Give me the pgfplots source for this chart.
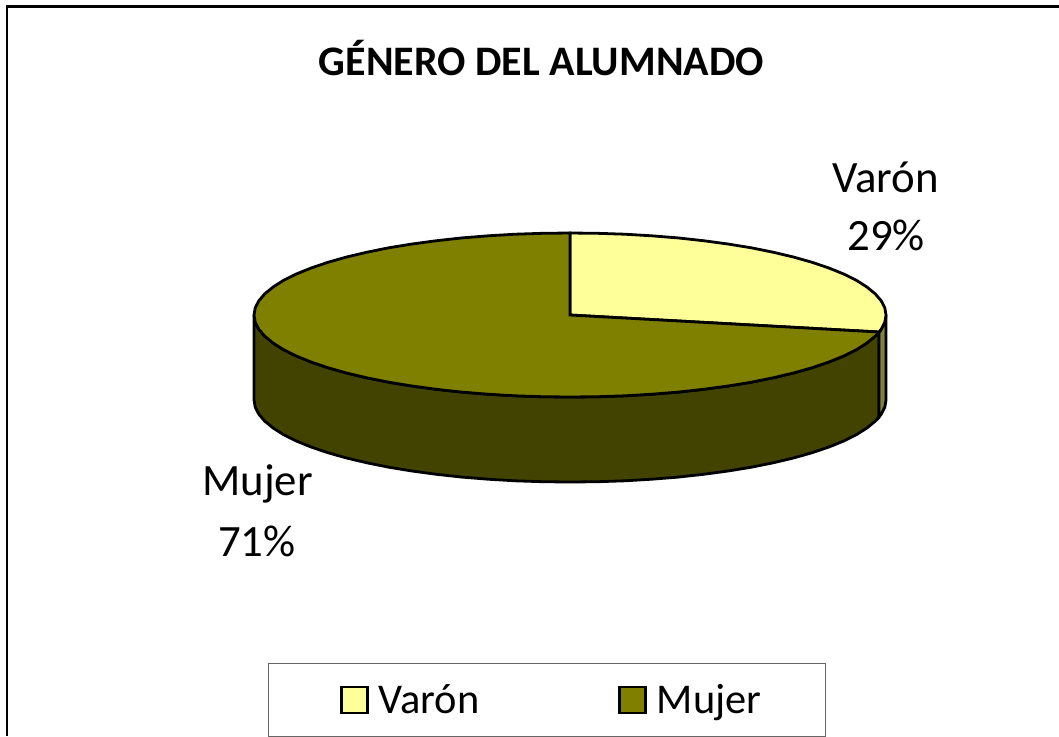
\documentclass[border=0pt]{standalone}
\usepackage{fontspec}
\setmainfont{Carlito}
\usepackage{pgfplots}
\pgfplotsset{compat=1.18}

\definecolor{varon}{HTML}{FFFF99}
\definecolor{mujer}{HTML}{808000}
\definecolor{varonside}{HTML}{80803F}
\definecolor{mujerside}{HTML}{434300}

\begin{document}
\begin{tikzpicture}
\begin{axis}[
  scale only axis,
  width=529.5pt, height=368pt,
  xmin=0, xmax=1059,
  ymin=0, ymax=736,
  y dir=reverse,
  hide axis,
  clip=false,
  legend columns=2,
  legend cell align=left,
  legend style={
    at={(axis cs:547,700)}, anchor=center,
    draw=black!60, line width=0.5pt,
    font=\fontsize{21.2pt}{24pt}\selectfont,
    inner xsep=30pt, inner ysep=8pt,
    /tikz/every odd column/.append style={column sep=3pt},
    /tikz/every even column/.append style={column sep=61.5pt},
  },
  legend image code/.code={
    \path[draw=none, fill=none] (-6.5pt,0pt) -- (0pt,0pt);
    \draw[#1, line width=1.2pt] (0pt,-6.5pt) rectangle (13pt,6.5pt);
  },
]
  % frame of the chart area
  \addplot[black, line width=1.2pt, forget plot] coordinates {(7,736) (7,6.5) (1059,6.5)};

  % side of Mujer
  \addplot[draw=black, line width=1.4pt, fill=mujerside, forget plot] coordinates {
    (254,315) (255.2,322.1) (258.8,329.2) (264.8,336.2) (273.1,343) (283.6,349.7) (296.3,356)
    (311.1,362) (327.9,367.7) (346.6,373) (366.9,377.8) (388.7,382.2) (412,386) (436.5,389.3)
    (461.9,392.1) (488.2,394.2) (515.1,395.8) (542.5,396.7) (570,397) (597.5,396.7) (624.9,395.8)
    (651.8,394.2) (678.1,392.1) (703.5,389.3) (728,386) (751.3,382.2) (773.1,377.8) (793.4,373)
    (812.1,367.7) (828.9,362) (843.7,356) (856.4,349.7) (866.9,343) (875.2,336.2) (879,332)
    (879,417)
    (875.2,421.2) (866.9,428) (856.4,434.7) (843.7,441) (828.9,447) (812.1,452.7) (793.4,458)
    (773.1,462.8) (751.3,467.2) (728,471) (703.5,474.3) (678.1,477.1) (651.8,479.2) (624.9,480.8)
    (597.5,481.7) (570,482) (542.5,481.7) (515.1,480.8) (488.2,479.2) (461.9,477.1) (436.5,474.3)
    (412,471) (388.7,467.2) (366.9,462.8) (346.6,458) (327.9,452.7) (311.1,447) (296.3,441)
    (283.6,434.7) (273.1,428) (264.8,421.2) (258.8,414.2) (255.2,407.1) (254,400)
  } -- cycle;

  % side of Varon
  \addplot[draw=black, line width=1.4pt, fill=varonside, forget plot] coordinates {
    (886,315) (884.8,322.1) (881.2,329.2) (879,332) (879,417) (881.2,414.2) (884.8,407.1) (886,400)
  } -- cycle;

  % top of Varon
  \addplot[draw=black, line width=1.4pt, fill=varon] coordinates {
    (570,315) (570,233) (597.5,233.3) (624.9,234.2) (651.8,235.8) (678.1,237.9) (703.5,240.7)
    (728,244) (751.3,247.8) (773.1,252.2) (793.4,257) (812.1,262.3) (828.9,268) (843.7,274)
    (856.4,280.3) (866.9,287) (875.2,293.8) (881.2,300.8) (884.8,307.9) (886,315) (884.8,322.1)
    (881.2,329.2) (879,332)
  } -- cycle;
  \addlegendentry{Varón}

  % top of Mujer
  \addplot[draw=black, line width=1.4pt, fill=mujer] coordinates {
    (570,315) (879,332) (875.2,336.2) (866.9,343) (856.4,349.7) (843.7,356) (828.9,362) (812.1,367.7)
    (793.4,373) (773.1,377.8) (751.3,382.2) (728,386) (703.5,389.3) (678.1,392.1) (651.8,394.2)
    (624.9,395.8) (597.5,396.7) (570,397) (542.5,396.7) (515.1,395.8) (488.2,394.2) (461.9,392.1)
    (436.5,389.3) (412,386) (388.7,382.2) (366.9,377.8) (346.6,373) (327.9,367.7) (311.1,362)
    (296.3,356) (283.6,349.7) (273.1,343) (264.8,336.2) (258.8,329.2) (255.2,322.1) (254,315)
    (255.2,307.9) (258.8,300.8) (264.8,293.8) (273.1,287) (283.6,280.3) (296.3,274) (311.1,268)
    (327.9,262.3) (346.6,257) (366.9,252.2) (388.7,247.8) (412,244) (436.5,240.7) (461.9,237.9)
    (488.2,235.8) (515.1,234.2) (542.5,233.3) (570,233)
  } -- cycle;
  \addlegendentry{Mujer}

  \node[font=\fontsize{21pt}{24pt}\bfseries\selectfont] at (axis cs:541.5,58) {GÉNERO DEL ALUMNADO};
  \node[font=\fontsize{22.4pt}{26pt}\selectfont] at (axis cs:885.5,177) {Varón};
  \node[font=\fontsize{22.4pt}{26pt}\selectfont] at (axis cs:886,235) {29\%};
  \node[font=\fontsize{22.4pt}{26pt}\selectfont] at (axis cs:257.5,484) {Mujer};
  \node[font=\fontsize{22.4pt}{26pt}\selectfont] at (axis cs:257,541) {71\%};
\end{axis}
\pgfresetboundingbox
\path[use as bounding box] (current axis.south west) rectangle (current axis.north east);
\end{tikzpicture}
\end{document}
